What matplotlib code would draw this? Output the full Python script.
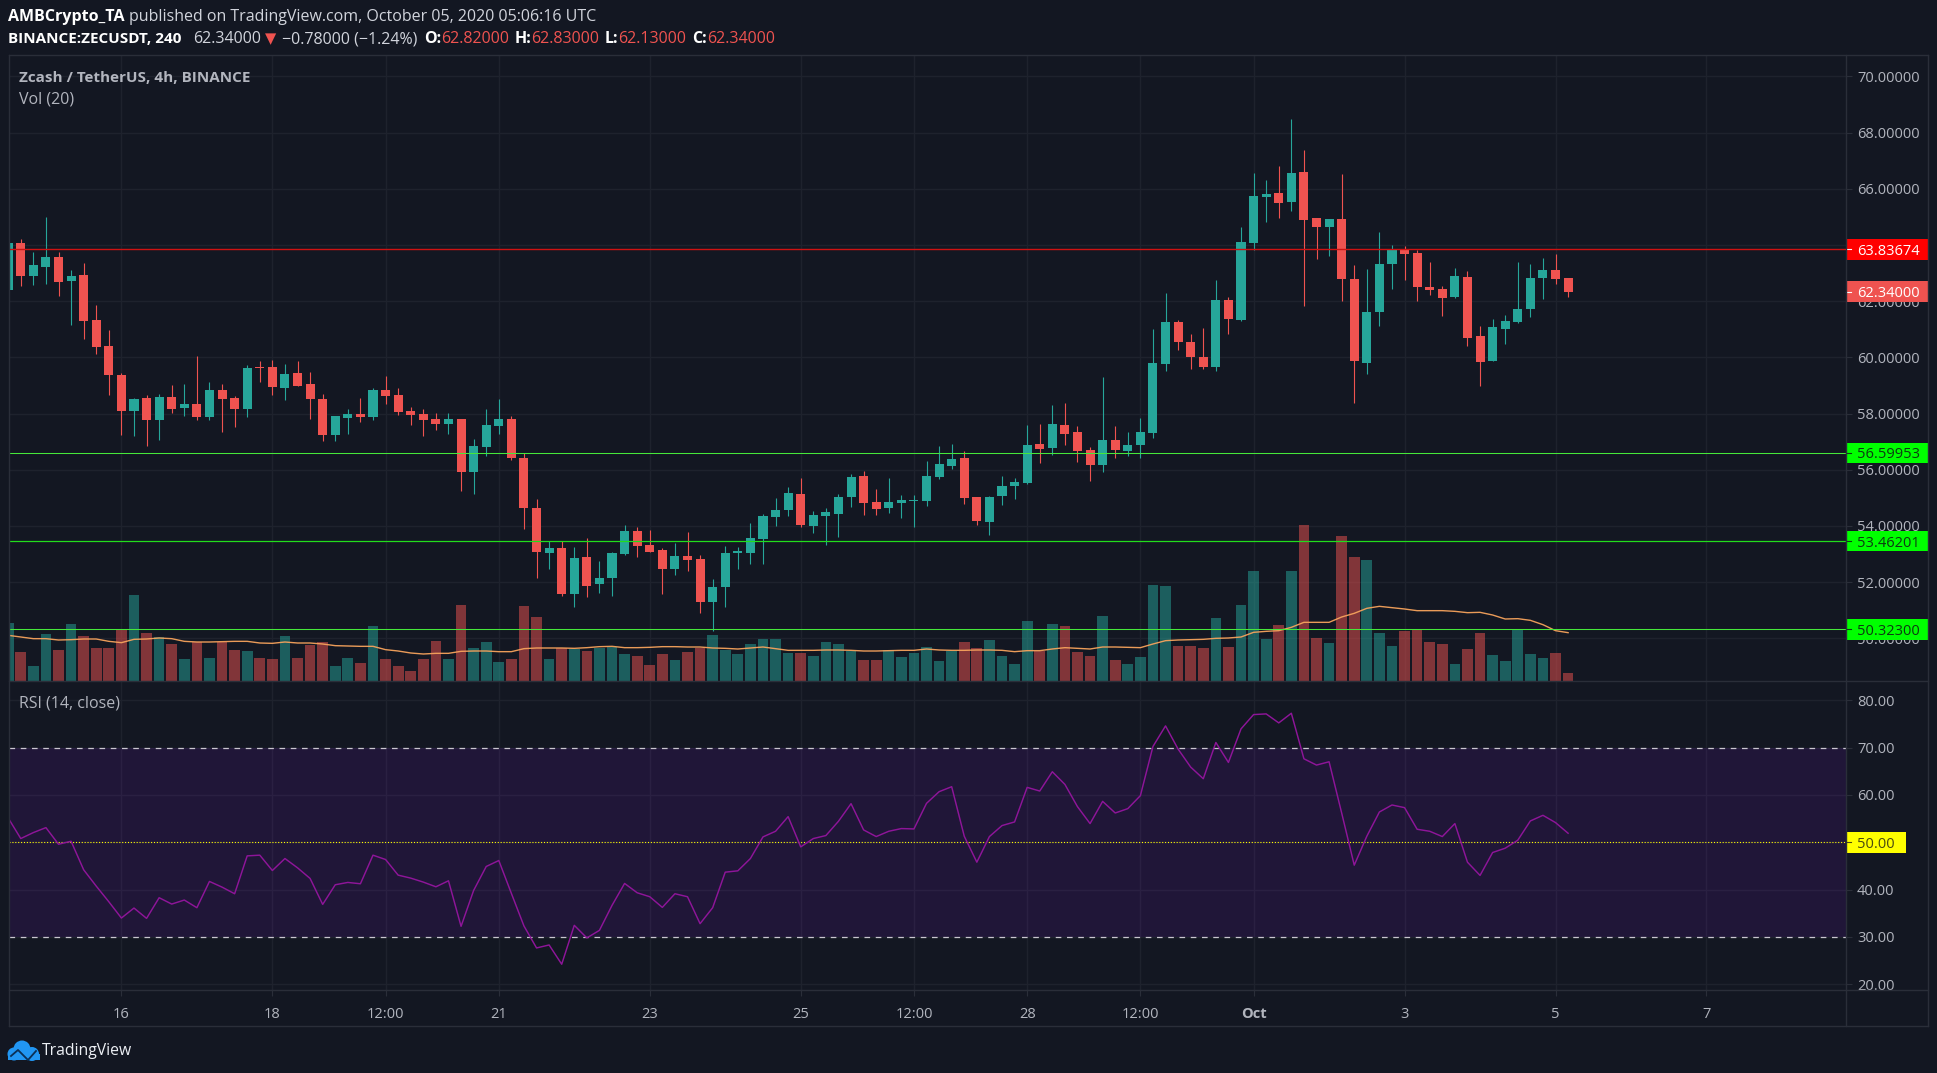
import matplotlib
matplotlib.use("Agg")
import matplotlib.pyplot as plt
import numpy as np
from matplotlib.patches import Rectangle, Circle, Polygon
from matplotlib.transforms import Affine2D, blended_transform_factory

W, H = 1937, 1073
BG = "#131722"; GRID = "#1e222d"; FRAME = "#2a2e39"; TXT = "#b2b5be"
UP = "#26a69a"; DOWN = "#ef5350"
FONT = ["Open Sans", "DejaVu Sans"]
plt.rcParams["font.family"] = FONT

# candle index 0 = 16 Sep 00:00 UTC, one candle = 4 hours
first_candle = -9
opens = [62.40,64.07,62.89,63.21,63.57,62.71,62.93,61.33,60.40,59.37,58.09,58.55,57.77,58.59,58.20,58.34,57.88,58.84,58.55,58.16,59.66,59.66,58.91,59.44,59.05,
         58.52,57.24,57.84,57.98,57.88,58.84,58.66,58.09,57.98,57.80,57.63,57.80,55.92,56.81,57.55,57.80,56.42,54.64,53.03,53.21,51.58,52.89,51.93,52.15,53.00,
         53.82,53.32,53.14,52.47,52.93,52.82,51.29,51.83,53.03,53.03,53.53,54.32,54.57,55.13,54.00,54.35,54.42,55.03,55.78,54.85,54.64,54.82,54.88,54.88,55.74,
         56.13,56.42,55.03,54.14,55.06,55.42,55.53,56.92,56.77,57.59,57.34,56.70,56.17,57.06,56.67,56.88,57.31,59.76,61.26,60.55,60.01,59.66,62.04,61.33,64.07,
         65.71,65.85,65.53,66.59,64.96,64.64,64.92,62.79,59.80,61.61,63.32,63.85,63.71,62.50,62.43,62.15,62.86,60.76,59.87,61.01,61.26,61.72,62.82,63.11,62.82]
closes = [64.07,62.89,63.28,63.57,62.68,62.89,61.29,60.37,59.37,58.09,58.52,57.77,58.59,58.16,58.34,57.88,58.84,58.52,58.16,59.62,59.62,58.94,59.41,58.98,58.52,
          57.24,57.91,57.98,57.88,58.84,58.62,58.05,57.95,57.77,57.63,57.80,55.92,56.84,57.59,57.80,56.42,54.64,53.07,53.21,51.58,52.86,51.86,52.15,53.03,53.82,
          53.28,53.07,52.47,52.93,52.79,51.29,51.83,53.03,53.11,53.57,54.35,54.57,55.17,54.03,54.39,54.49,55.03,55.74,54.82,54.60,54.85,54.92,54.92,55.78,56.20,
          56.38,55.00,54.17,55.03,55.42,55.56,56.88,56.74,57.63,57.27,56.67,56.17,57.06,56.70,56.88,57.34,59.80,61.26,60.55,60.01,59.66,62.04,61.36,64.10,65.74,
          65.81,65.49,66.56,64.89,64.64,64.92,62.79,59.87,61.61,63.32,63.85,63.68,62.50,62.40,62.11,62.89,60.69,59.83,61.08,61.29,61.72,62.82,63.11,62.79,62.34]
highs = [64.21,64.21,63.75,64.99,63.75,63.11,63.36,61.86,60.97,59.44,58.55,58.66,58.69,59.01,59.05,60.05,59.12,59.05,58.62,59.73,59.87,59.90,59.76,59.87,59.48,
         58.69,57.91,58.16,58.55,58.91,59.34,58.91,58.23,58.16,58.02,58.02,57.80,57.09,58.16,58.52,57.91,56.58,54.96,53.46,53.46,53.25,53.57,52.75,53.07,54.03,
         53.96,53.85,53.21,53.39,53.78,52.96,52.11,53.28,53.25,54.10,54.42,54.99,55.40,55.70,54.53,54.64,55.13,55.85,55.95,55.31,55.70,55.10,55.10,56.31,56.84,
         56.91,56.66,55.03,55.06,55.78,55.70,57.59,57.63,58.30,58.37,57.56,56.81,59.30,57.56,57.34,57.84,61.01,62.29,61.33,60.83,61.04,62.75,62.15,64.64,66.56,
         66.31,66.81,68.48,67.38,64.96,64.92,66.52,63.29,63.14,64.46,63.99,63.96,63.82,63.39,62.54,63.18,63.07,61.11,61.36,61.50,63.39,63.32,63.53,63.68,62.83]
lows = [62.40,62.54,62.57,62.61,62.18,61.15,60.65,60.12,58.66,57.24,57.20,56.84,57.06,58.02,57.91,57.77,57.77,57.34,57.52,57.88,59.12,58.66,58.48,58.98,57.80,
        57.02,57.02,57.27,57.70,57.77,58.34,57.95,57.58,57.20,57.41,57.27,55.24,55.14,56.49,57.27,56.35,53.89,52.15,52.47,51.51,51.11,51.47,51.61,51.51,52.96,
        52.89,53.07,51.58,52.25,52.40,50.90,50.26,51.11,52.47,52.64,52.64,54.00,54.35,53.96,53.75,53.32,53.60,54.67,54.39,54.39,54.46,54.28,53.96,54.71,55.67,
        56.02,54.78,54.03,53.68,54.74,54.96,55.49,56.24,56.52,56.88,56.27,55.60,55.92,56.42,56.49,56.42,57.13,59.51,60.26,59.58,59.58,59.51,60.83,61.29,63.82,
        64.81,64.96,65.21,61.83,63.50,63.61,62.00,58.37,59.41,61.11,62.43,62.75,62.00,62.22,61.47,62.11,60.40,58.98,59.87,60.47,61.22,61.43,62.07,62.61,62.13]
volumes = [175,88,46,142,94,172,136,100,100,154,259,145,133,112,67,118,70,118,94,91,70,67,136,70,109,
           118,46,70,55,166,67,46,31,67,121,67,229,100,118,58,67,226,193,67,100,97,91,100,103,82,
           76,49,82,64,88,100,139,94,82,112,127,127,85,85,76,118,112,91,64,64,94,73,85,103,61,
           91,118,100,124,76,52,181,91,172,166,88,76,196,64,52,73,289,286,106,106,100,190,103,229,331,
           127,169,331,468,130,115,435,372,364,145,106,151,156,118,112,52,97,145,79,61,155,82,70,85,25]
vol_ma = [137,132,127,127,123,124,126,126,119,115,125,126,129,127,119,117,117,118,119,119,114,113,117,114,114,
          111,106,105,104,104,94,90,84,81,83,83,89,90,90,88,88,97,99,99,99,98,100,103,104,100,
          100,101,103,103,102,102,99,98,96,99,102,97,92,92,92,93,93,92,90,90,91,92,92,96,93,
          92,92,93,93,92,88,91,91,96,100,98,96,102,102,101,100,111,121,123,124,125,128,129,132,146,
          149,151,161,176,176,176,192,203,218,224,220,216,211,211,211,209,205,206,198,186,187,182,169,151,145]
rsi = [55.14,50.79,52.05,53.10,49.59,50.22,44.19,40.74,37.44,34.00,36.11,33.93,38.29,36.95,37.80,36.18,41.73,40.53,39.13,47.13,47.28,44.04,46.57,44.61,42.36,
       36.88,41.03,41.52,41.24,47.28,46.36,43.06,42.43,41.59,40.60,41.87,32.25,39.83,44.89,46.15,39.20,32.32,27.68,28.31,24.24,32.46,29.80,31.40,36.67,41.31,
       39.34,38.50,36.25,39.13,38.50,32.81,36.18,43.69,43.97,46.57,51.14,52.33,55.42,49.03,50.79,51.42,54.44,58.16,52.61,51.21,52.33,52.90,52.82,58.23,60.69,
       61.74,51.28,45.80,51.21,53.53,54.30,61.60,60.83,64.90,62.23,57.53,53.95,58.65,56.19,57.11,59.85,70.24,74.59,69.68,65.88,63.43,71.08,66.87,73.96,76.98,
       77.12,75.22,77.26,67.64,66.31,67.01,56.19,45.17,51.28,56.40,57.88,57.32,52.75,52.33,51.21,53.95,45.80,43.00,47.84,48.75,50.44,54.51,55.70,54.16,51.91]

date_ticks = [0, 12, 21, 30, 42, 54, 63, 72, 81, 90, 102, 114, 126]
date_labels = ["16", "18", "12:00", "21", "23", "25", "12:00", "28", "12:00", "Oct", "3", "5", "7"]
price_ticks = [50, 52, 54, 56, 58, 60, 62, 64, 66, 68, 70]
rsi_ticks = [20, 30, 40, 50, 60, 70, 80]
levels = [63.83674, 56.59953, 53.46201, 50.32300]
level_labels = ["63.83674", "56.59953", "53.46201", "50.32300"]
level_colors = ["#d01212", "#46e83a", "#22dd1c", "#46e83a"]
level_widths = [1.0, 0.75, 0.9, 0.75]
box_colors = ["#ff0000", "#00ff00", "#00ff00", "#00ff00"]
box_text = ["#ffffff", "#0d3a12", "#0d3a12", "#0d3a12"]
last_price = 62.34

L, R, TOP, MID, BOT = 8.5, 1846.0, 55.0, 681.0, 990.0
SCALE_R, FRAME_B = 1928.0, 1026.0
XLIM = ((L - 121.4) / 12.58, (R - 121.4) / 12.58)
PLIM = (70 - (MID - 76.3) / 28.1, 70 + (76.3 - TOP) / 28.1)
RLIM = (20 - (BOT - 984.3) / 4.74, 80 + (700.3 - MID) / 4.74)
VOL_TOP = 3 * (MID - TOP)

fig = plt.figure(figsize=(W / 100, H / 100), dpi=100, facecolor=BG)
def rect(t, b):
    return [L / W, 1 - b / H, (R - L) / W, (b - t) / H]
pix = Affine2D().scale(1 / W, -1 / H).translate(0, 1) + fig.transFigure

xs = np.arange(first_candle, first_candle + len(opens))
o, c, hi, lo, vol = map(np.array, (opens, closes, highs, lows, volumes))
colors = np.where(c >= o, UP, DOWN)

# grid background for price pane
grid_ax = fig.add_axes(rect(TOP, MID), facecolor=BG, zorder=0)
grid_ax.set_xlim(XLIM); grid_ax.set_ylim(PLIM)
grid_ax.set_xticks(date_ticks); grid_ax.set_yticks(price_ticks)
grid_ax.grid(True, color=GRID, lw=1.0)
grid_ax.tick_params(left=False, bottom=False, labelleft=False, labelbottom=False)
for s in grid_ax.spines.values(): s.set_visible(False)

vax = fig.add_axes(rect(TOP, MID), zorder=1)
vax.patch.set_visible(False)
vax.set_xlim(XLIM); vax.set_ylim(0, VOL_TOP)
vax.bar(xs, vol, width=0.85, color=colors, alpha=0.5, linewidth=0)
vax.plot(xs, vol_ma, color="#f7a35c", lw=1.0, alpha=0.95)
vax.axis("off")

ax = fig.add_axes(rect(TOP, MID), zorder=2)
ax.patch.set_visible(False)
ax.set_xlim(XLIM); ax.set_ylim(PLIM)
ax.vlines(xs, lo, hi, colors=colors, lw=0.8)
ax.bar(xs, np.abs(c - o), bottom=np.minimum(o, c), width=0.72, color=colors, linewidth=0)
for v, col, lw in zip(levels, level_colors, level_widths):
    ax.axhline(v, color=col, lw=lw, zorder=3)
ax.set_xticks([])
ax.yaxis.tick_right()
ax.set_yticks(price_ticks, [f"{v:.5f}" for v in price_ticks])
ax.tick_params(axis="y", length=4, width=0.8, color=FRAME, labelcolor=TXT, labelsize=10.5, pad=4)
for s in ax.spines.values(): s.set_visible(False)

bt = blended_transform_factory(ax.transAxes, ax.transData)
bw = (SCALE_R - R) / (R - L); bh = 20.7 / 28.1
def box(a, tr, val, h, w, fc, label, tc):
    a.add_patch(Rectangle((1, val - h / 2), w, h, transform=tr, fc=fc, ec="none", clip_on=False, zorder=6))
    a.text(1 + 11.5 / (R - L), val, label, transform=tr, color=tc, fontsize=10.5, va="center_baseline",
           ha="left", zorder=7, clip_on=False)
    a.plot([1, 1 + 5 / (R - L)], [val, val], transform=tr, color=tc, lw=0.8, zorder=7, clip_on=False)
for v, t_, bc, tc in zip(levels, level_labels, box_colors, box_text):
    box(ax, bt, v, bh, bw, bc, t_, tc)
box(ax, bt, last_price, bh, bw, DOWN, f"{last_price:.5f}", "#ffffff")

# RSI pane
rax = fig.add_axes(rect(MID, BOT), facecolor=BG, zorder=3)
rax.set_xlim(XLIM); rax.set_ylim(RLIM)
rax.set_axisbelow(True)
rax.grid(True, color=GRID, lw=1.0)
rax.axhspan(30, 70, color="#9915ff", alpha=0.1, lw=0, zorder=1)
rax.axhline(70, color="#c9c6cf", lw=0.9, dashes=(4.5, 4.5), zorder=2)
rax.axhline(30, color="#c9c6cf", lw=0.9, dashes=(4.5, 4.5), zorder=2)
rax.axhline(50, color="#ffff00", lw=0.8, dashes=(1, 1.6), zorder=2)
rax.plot(xs, rsi, color="#8e1599", lw=1.05, zorder=3)
rax.yaxis.tick_right()
rax.set_yticks(rsi_ticks, [f"{v:.2f}" for v in rsi_ticks])
rax.set_xticks(date_ticks, date_labels)
rax.tick_params(axis="y", length=4, width=0.8, color=FRAME, labelcolor=TXT, labelsize=10.5, pad=4)
rax.tick_params(axis="x", length=4, width=0.8, color=FRAME, labelcolor=TXT, labelsize=10.5, pad=8)
for lab in rax.get_yticklabels():
    lab.set_clip_on(True)
    lab.set_clip_box(matplotlib.transforms.TransformedBbox(
        matplotlib.transforms.Bbox([[0, 0], [1.2, 1]]), rax.transAxes))
for lab in rax.get_xticklabels():
    if lab.get_text() == "Oct":
        lab.set_fontweight("bold")
for s in rax.spines.values(): s.set_visible(False)
rt = blended_transform_factory(rax.transAxes, rax.transData)
box(rax, rt, 50, 20.7 / 4.74, 60 / (R - L), "#ffff00", "50.00", "#4a4a10")

# frame
def fline(x0, y0, x1, y1, col=FRAME, lw=1.0):
    fig.add_artist(plt.Line2D([x0, x1], [y0, y1], transform=pix, color=col, lw=lw, zorder=8))
fline(L, TOP, SCALE_R, TOP); fline(L, FRAME_B, SCALE_R, FRAME_B)
fline(L, TOP, L, FRAME_B); fline(SCALE_R, TOP, SCALE_R, FRAME_B)
fline(R, TOP, R, FRAME_B); fline(L, MID, SCALE_R, MID); fline(L, BOT, SCALE_R, BOT)

# header
def t(x, y, s, col="#ffffff", **kw):
    kw.setdefault("fontsize", 11.5)
    return fig.text(x, y, s, transform=pix, color=col, va="center", ha="left", zorder=9, **kw)
t(8, 17, "AMBCrypto_TA", weight="bold")
t(129, 17, "published on TradingView.com, October 05, 2020 05:06:16 UTC", col="#d1d4dc")
t(8, 39, "BINANCE:ZECUSDT, 240", weight="bold", fontsize=11)
t(193, 39, "62.34000", col="#d1d4dc")
t(265, 39, "\u25BC", col=DOWN, family=["DejaVu Sans"], fontsize=10.5)
t(282, 39, "\u22120.78000 (\u22121.24%)", col="#d1d4dc")
for x1, lab, x2, val in [(424, "O:", 441, "62.82000"), (515, "H:", 531, "62.83000"),
                         (605, "L:", 618, "62.13000"), (692, "C:", 707, "62.34000")]:
    t(x1, 39, lab, weight="bold")
    t(x2, 39, val, col=DOWN)
t(19, 77.5, "Zcash / TetherUS, 4h, BINANCE", col=TXT, weight="bold", fontsize=11)
t(19, 99, "Vol (20)", col=TXT)
t(19, 704, "RSI (14, close)", col=TXT)

# logo
blue = "#2196f3"
for cx, cy, r in [(14, 1054, 6.5), (22, 1049, 8.5), (32, 1054, 7)]:
    fig.add_artist(Circle((cx, cy), r, transform=pix, fc=blue, ec="none", zorder=9))
fig.add_artist(Polygon([(8, 1054), (40, 1054), (40, 1060), (8, 1060)], transform=pix, fc=blue, ec="none", zorder=9))
fig.add_artist(plt.Line2D([11, 18, 24, 28, 36], [1056, 1050, 1056, 1060, 1051], transform=pix,
                          color="#0b2f55", lw=1.3, zorder=10))
t(42, 1051, "TradingView", col="#eceff4", fontsize=11.3)

fig.savefig("out.png", dpi=100, facecolor=BG)
